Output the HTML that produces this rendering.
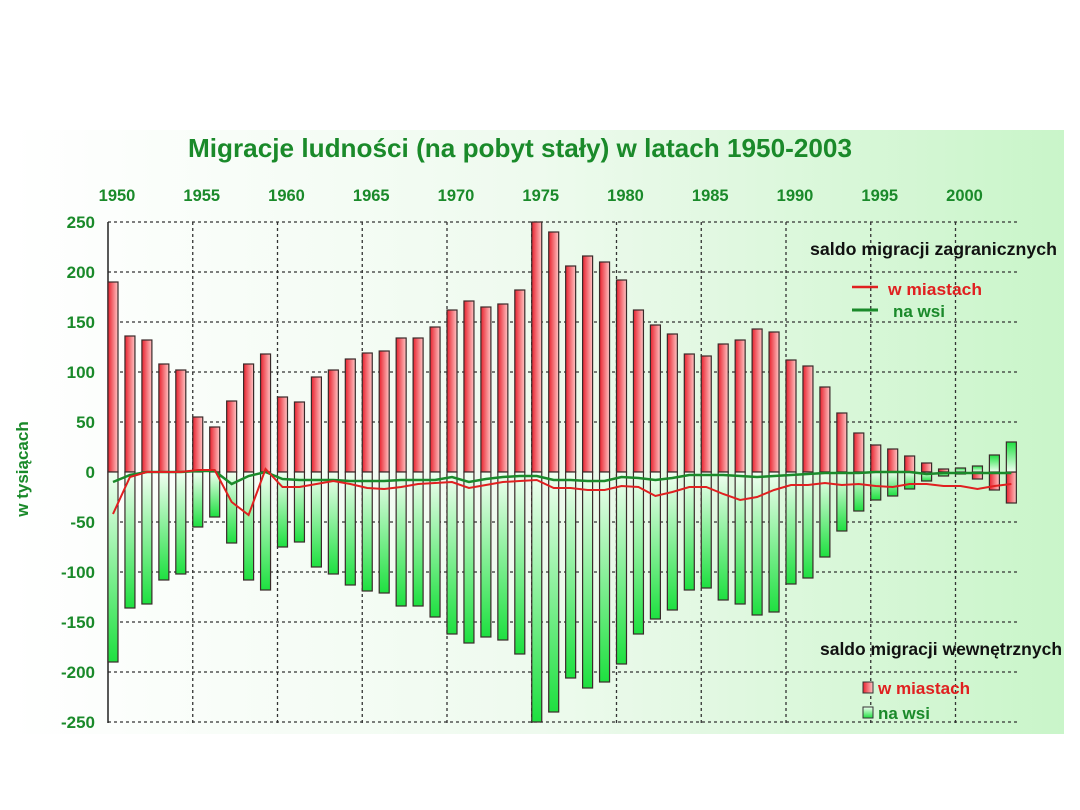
<!DOCTYPE html>
<html><head><meta charset="utf-8"><style>
html,body{margin:0;padding:0;background:#fff;width:1080px;height:810px;overflow:hidden}
svg{display:block;font-family:"Liberation Sans",sans-serif}
</style></head><body>
<svg id="s" width="1080" height="810" xmlns="http://www.w3.org/2000/svg">
<defs>
<linearGradient id="bg" x1="0" y1="0" x2="1" y2="0"><stop offset="0" stop-color="#ffffff"/><stop offset="0.5" stop-color="#eefaee"/><stop offset="1" stop-color="#c9f5c9"/></linearGradient>
<linearGradient id="rg" x1="0" y1="0" x2="1" y2="0"><stop offset="0" stop-color="#e8222e"/><stop offset="1" stop-color="#ffc4c4"/></linearGradient>
<linearGradient id="gg" x1="0" y1="0" x2="0" y2="1"><stop offset="0" stop-color="#f2fff2"/><stop offset="1" stop-color="#1ee040"/></linearGradient>
<linearGradient id="gg2" x1="0" y1="1" x2="0" y2="0"><stop offset="0" stop-color="#f2fff2"/><stop offset="1" stop-color="#1ee040"/></linearGradient>
</defs>
<rect x="12" y="130" width="1052" height="604" fill="url(#bg)"/>
<text x="520" y="157" text-anchor="middle" font-size="26" font-weight="bold" fill="#1a8a2a" textLength="664" lengthAdjust="spacingAndGlyphs">Migracje ludności (na pobyt stały) w latach 1950-2003</text>
<g id="grid"></g>
<g id="bars"></g>
<g id="lines"></g>
<text transform="translate(28,469) rotate(-90)" text-anchor="middle" font-size="17" font-weight="bold" fill="#1a8a2a">w tysiącach</text>
<text x="810" y="255" font-size="17.5" font-weight="bold" fill="#111" textLength="247" lengthAdjust="spacingAndGlyphs">saldo migracji zagranicznych</text>
<line x1="852" y1="287" x2="878" y2="287" stroke="#e02020" stroke-width="2.5"/>
<text x="888" y="295" font-size="17" font-weight="bold" fill="#e02020" textLength="94" lengthAdjust="spacingAndGlyphs">w miastach</text>
<line x1="852" y1="310" x2="878" y2="310" stroke="#1a8a2a" stroke-width="3"/>
<text x="893" y="317" font-size="17" font-weight="bold" fill="#1a8a2a">na wsi</text>
<text x="820" y="655" font-size="17.5" font-weight="bold" fill="#111" textLength="242" lengthAdjust="spacingAndGlyphs">saldo migracji wewnętrznych</text>
<rect x="863" y="682" width="10" height="11" fill="url(#rg)" stroke="#333"/>
<text x="878" y="694" font-size="17" font-weight="bold" fill="#e02020" textLength="92" lengthAdjust="spacingAndGlyphs">w miastach</text>
<rect x="863" y="707" width="10" height="11" fill="url(#gg)" stroke="#333"/>
<text x="878" y="719" font-size="17" font-weight="bold" fill="#1a8a2a">na wsi</text>
</svg>
<script>
var NS="http://www.w3.org/2000/svg";
function el(p,t,a,txt){var e=document.createElementNS(NS,t);for(var k in a)e.setAttribute(k,a[k]);if(txt!=null)e.textContent=txt;document.getElementById(p).appendChild(e);return e;}
var X0=108,P=16.95,Z=472,L=108,R=1018;
function yv(v){return Z-v;}
for(var v=-250;v<=250;v+=50){
 if(v!=0) el("grid","line",{x1:L,y1:yv(v),x2:R,y2:yv(v),stroke:"#333","stroke-dasharray":"3,3","stroke-width":1.3});
 el("grid","text",{x:95,y:yv(v)+6,"text-anchor":"end","font-size":17,"font-weight":"bold",fill:"#1a8a2a"},v);
}
for(var y=1950;y<=2000;y+=5){
 var x=X0+(y-1950)*P;
 if(y>1950) el("grid","line",{x1:x,y1:222,x2:x,y2:723,stroke:"#333","stroke-dasharray":"3,3","stroke-width":1.3});
 el("grid","text",{x:x+9,y:201,"text-anchor":"middle","font-size":16.5,"font-weight":"bold",fill:"#1a8a2a"},y);
}
el("grid","line",{x1:L,y1:222,x2:L,y2:723,stroke:"#222","stroke-width":1.5});
var red=[190,136,132,108,102,55,45,71,108,118,75,70,95,102,113,119,121,134,134,145,162,171,165,168,182,250,240,206,216,210,192,162,147,138,118,116,128,132,143,140,112,106,85,59,39,27,23,16,9,3,-2,-7,-18,-31];
var grn=[-190,-136,-132,-108,-102,-55,-45,-71,-108,-118,-75,-70,-95,-102,-113,-119,-121,-134,-134,-145,-162,-171,-165,-168,-182,-250,-240,-206,-216,-210,-192,-162,-147,-138,-118,-116,-128,-132,-143,-140,-112,-106,-85,-59,-39,-28,-24,-17,-9,-4,4,6,17,30];
for(var i=0;i<54;i++){
 var x=X0+i*P;
 [ [red[i],"url(#rg)"],[grn[i],grn[i]<0?"url(#gg)":"url(#gg2)"] ].forEach(function(b){
  var v=b[0];var top=v>0?yv(v):Z;var h=Math.abs(v);
  el("bars","rect",{x:x,y:top,width:10,height:h,fill:b[1],stroke:"#3a2a2a","stroke-width":1.2});
 });
}
var lr=[-42,-5,0,0,0,2,2,-30,-43,3,-15,-15,-12,-9,-12,-16,-17,-15,-12,-11,-10,-16,-13,-10,-9,-8,-16,-16,-18,-18,-14,-15,-24,-20,-15,-15,-22,-28,-25,-18,-13,-13,-11,-13,-12,-14,-15,-12,-12,-14,-14,-17,-14,-12];
var lg=[-10,-3,0,0,0,1,1,-12,-4,0,-7,-8,-8,-8,-9,-9,-9,-8,-8,-8,-5,-10,-7,-5,-4,-4,-8,-8,-9,-9,-5,-6,-8,-6,-3,-3,-3,-4,-5,-4,-3,-2,-1,-1,-1,0,0,0,-2,-1,-1,-1,-1,-1];
function pts(a){return a.map(function(v,i){return (X0+i*P+5)+","+yv(v);}).join(" ");}
el("lines","polyline",{points:pts(lg),fill:"none",stroke:"#1a8a2a","stroke-width":2.5});
el("lines","polyline",{points:pts(lr),fill:"none",stroke:"#e02020","stroke-width":2});
</script>
</body></html>
